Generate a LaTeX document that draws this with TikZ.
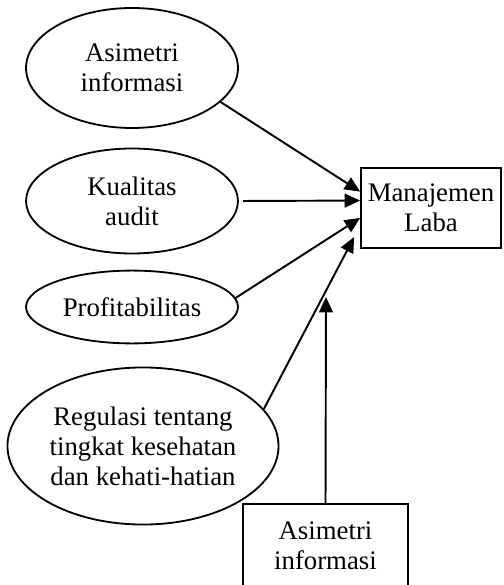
\documentclass[tikz,border=0pt]{standalone}
\usepackage{fontspec}
\setmainfont{Liberation Serif}
\usetikzlibrary{positioning}
\usetikzlibrary{shapes.geometric,arrows.meta}

\tikzset{
	var/.style={ellipse, draw, line width=0.85pt, inner sep=0pt, align=center,
		font=\fontsize{12.5}{14}\selectfont},
	box/.style={rectangle, draw, line width=0.85pt, inner sep=0pt, align=center,
		font=\fontsize{12.5}{14}\selectfont},
	link/.style={line width=0.9pt, -{Triangle[length=7.2pt,width=6.4pt]}}
}

\begin{document}
\begin{tikzpicture}[x=0.4667pt, y=-0.4667pt]

	\useasboundingbox (0,0) rectangle (503,585);
	\clip (0,0) rectangle (503,585);

	%Vertices
	\node[var, minimum width=98.9pt, minimum height=56pt] (asim) at (132,68) {Asimetri\\informasi};
	\node[var, minimum width=98.9pt, minimum height=49pt] (kual) at (132,201) {Kualitas\\audit};
	\node[var, minimum width=98.9pt, minimum height=34pt] (prof) at (132,307) {Profitabilitas};
	\node[var, minimum width=126.5pt, minimum height=73.3pt] (regu) at (143,446) {Regulasi tentang\\tingkat kesehatan\\dan kehati-hatian};

	\node[box, minimum width=65.3pt, minimum height=37.3pt] (laba) at (431,208) {Manajemen\\Laba};
	\node[box, minimum width=77pt, minimum height=39.2pt] (mod) at (325.5,546) {Asimetri\\informasi};

	\coordinate (hit) at (326,297); % end of the moderating arrow

	%Arrows
	\draw[link] (asim.-21) -- (laba.167);
	\draw[link, shorten <=2pt] (kual.east) -- (laba.174);
	\draw[link] (prof.5) -- (laba.188);
	\draw[link, shorten >=6pt] (regu.17) -- (laba.194);
	\draw[link] (mod.north) -- (hit);

\end{tikzpicture}
\end{document}
